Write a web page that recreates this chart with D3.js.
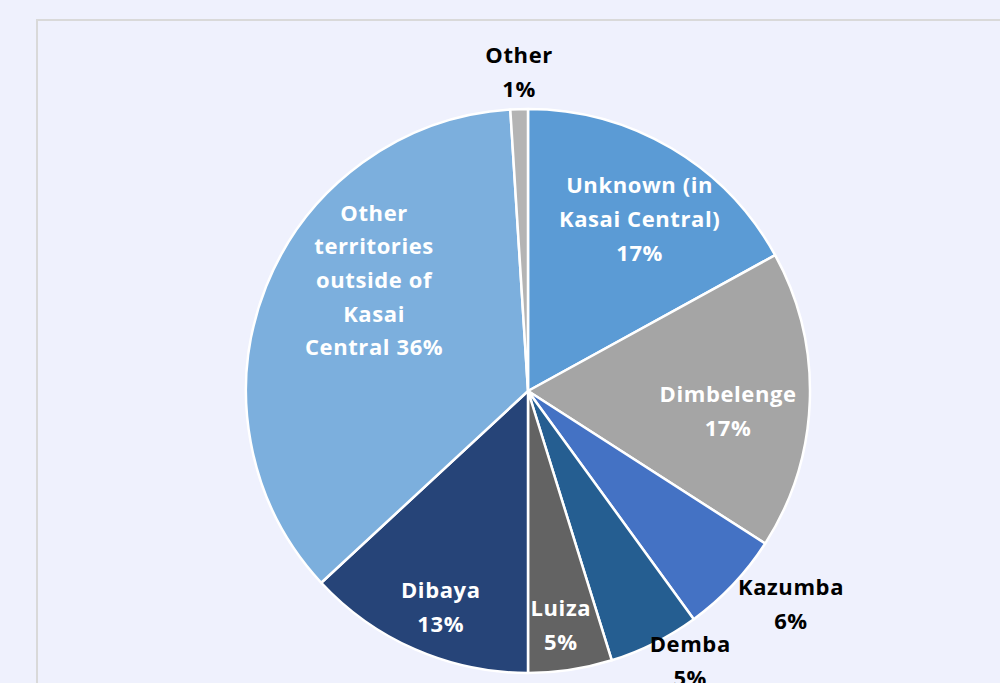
<!DOCTYPE html>
<html><head><meta charset="utf-8">
<script src="https://cdn.jsdelivr.net/npm/d3@7"></script>
<style>
html,body{margin:0;padding:0;background:#eff1fd;}
svg{display:block;}
</style></head>
<body>
<svg id="chart" width="1000" height="683"></svg>
<script>
const categories = ["Unknown (in Kasai Central)", "Dimbelenge", "Kazumba", "Demba", "Luiza", "Dibaya", "Other territories outside of Kasai Central", "Other"];
const values = [17.0, 17.1, 5.9, 5.2, 4.8, 13.1, 35.9, 1.0];
const percentLabels = ["17%", "17%", "6%", "5%", "5%", "13%", "36%", "1%"];
const labelLines = [
  ["Unknown (in", "Kasai Central)", "17%"],
  ["Dimbelenge", "17%"],
  ["Kazumba", "6%"],
  ["Demba", "5%"],
  ["Luiza", "5%"],
  ["Dibaya", "13%"],
  ["Other", "territories", "outside of", "Kasai", "Central 36%"],
  ["Other", "1%"]
];
const colors = ["#5b9bd5", "#a5a5a5", "#4472c4", "#255e91", "#636363", "#264478", "#7cafdd", "#b4b4b4"];
const labelColors = ["#fff", "#fff", "#000", "#000", "#fff", "#fff", "#fff", "#000"];
// label placement: [angle (deg, clockwise from top), radius as fraction of pie radius]
const labelPolar = [[33, 0.727], [95.7, 0.713], [129, 1.2], [149, 1.117], [172, 0.837], [202, 0.826], [305.8, 0.673], [-1.6, 1.131]];

const svg = d3.select("#chart");
svg.append("rect").attr("x", 37).attr("y", 20).attr("width", 1000).attr("height", 700)
  .attr("fill", "#eff1fd").attr("stroke", "#d9d9d9").attr("stroke-width", 2);

const cx = 528, cy = 391, R = 282;
const g = svg.append("g").attr("transform", `translate(${cx},${cy})`);
const data = categories.map((c, i) => ({name: c, value: values[i], i}));
const pie = d3.pie().value(d => d.value).sort(null).startAngle(0).endAngle(2 * Math.PI);
const arc = d3.arc().innerRadius(0).outerRadius(R);
const arcs = pie(data);

g.selectAll("path.slice").data(arcs).join("path")
  .attr("class", "slice")
  .attr("d", arc)
  .attr("fill", d => colors[d.data.i])
  .attr("stroke", "#ffffff")
  .attr("stroke-width", 2.5)
  .attr("stroke-linejoin", "round");

const fs = 22, lh = 33.7;
arcs.forEach(d => {
  const i = d.data.i;
  const [ang, rf] = labelPolar[i];
  const a = ang * Math.PI / 180;
  const x = Math.sin(a) * R * rf, y = -Math.cos(a) * R * rf;
  const lines = labelLines[i];
  const t = g.append("text")
    .attr("text-anchor", "middle")
    .attr("font-family", "'Open Sans', sans-serif")
    .attr("font-weight", "bold")
    .attr("font-size", fs)
    .attr("letter-spacing", 0.6)
    .attr("fill", labelColors[i]);
  const y0 = y - (lines.length - 1) * lh / 2 + fs * 0.36;
  lines.forEach((l, k) => {
    t.append("tspan").attr("x", x).attr("y", y0 + k * lh).text(l);
  });
});
</script>
</body></html>
